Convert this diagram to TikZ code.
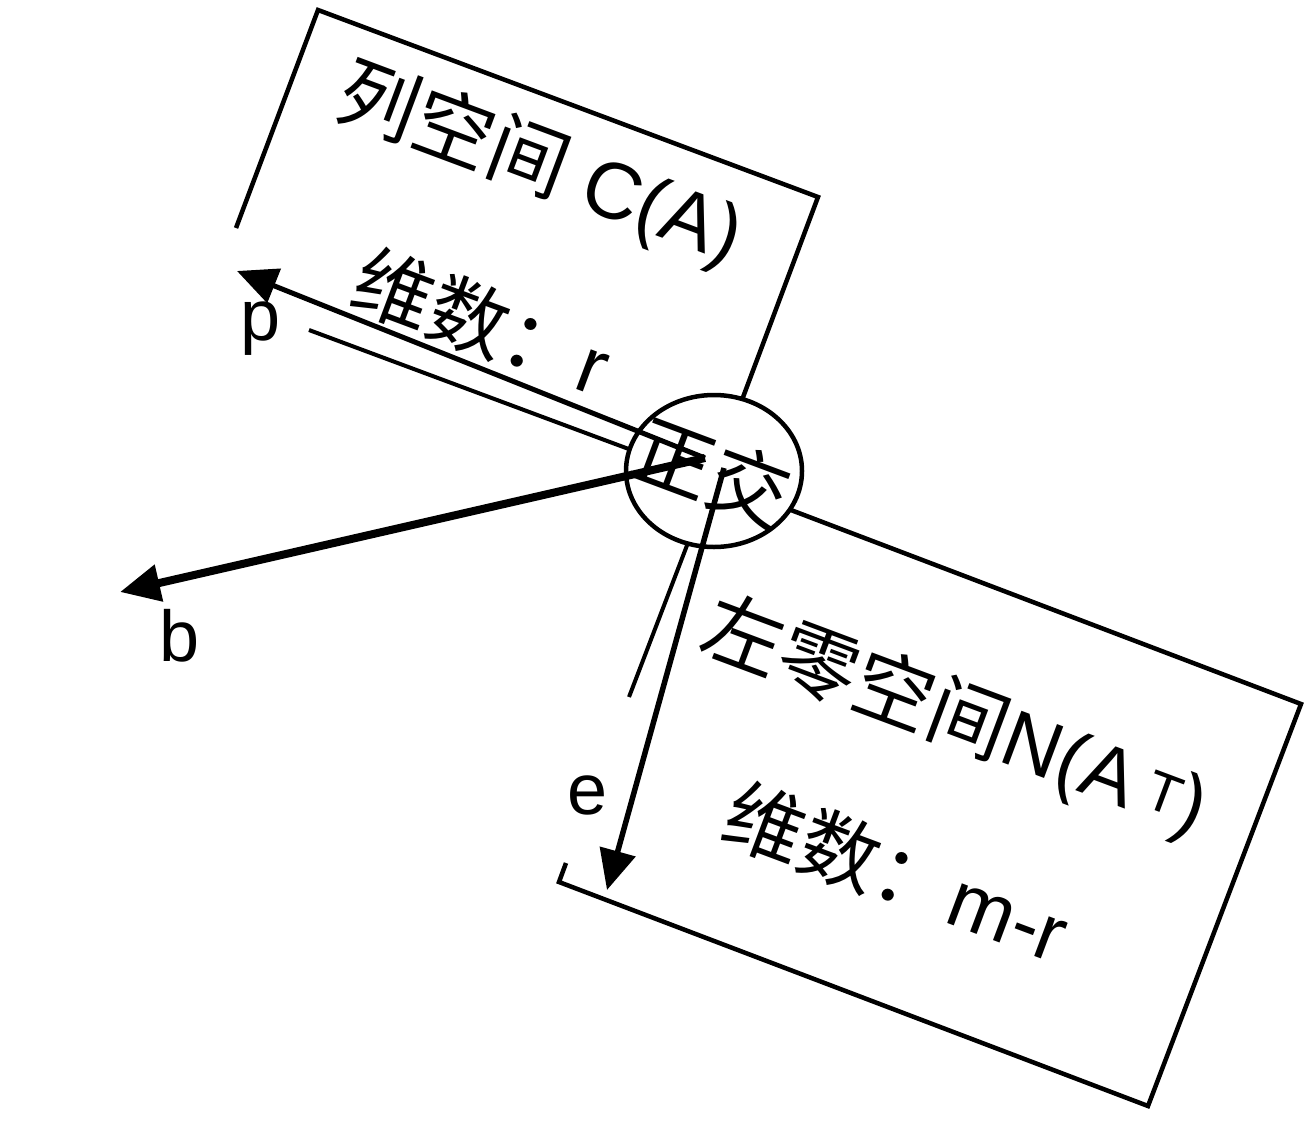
\documentclass[tikz,border=0pt]{standalone}
\usepackage{fontspec}
\setmainfont{Liberation Sans}
\newfontfamily\cjk{Noto Sans CJK SC}
\usetikzlibrary{arrows.meta,shapes.geometric}
\tikzset{every picture/.style={line width=4.5pt}}

\begin{document}
\begin{tikzpicture}[x=1pt,y=1pt,yscale=-1,xscale=1,
    txt/.style={inner sep=0pt,font=\fontsize{80}{96}\selectfont,rotate=-20.5},
    vlabel/.style={inner sep=0pt,font=\fontsize{72}{86}\selectfont},
    vec/.style={-{Triangle[length=40pt,width=36pt]}}]
    \useasboundingbox (0,0) rectangle (1314,1127);

    % column space box
    \draw   (236,228) -- (318,10) -- (818,197) -- (712,480) ;
    \draw [line width=4pt]  (309,330) -- (712,480) ;
    % left null space box
    \draw   (566,863) -- (559,882) -- (1148,1106) -- (1301,704) -- (712,480) ;
    \draw [line width=4pt]  (712,480) -- (629,697) ;

    \node [ellipse,draw,fill=white,minimum width=176pt,minimum height=152pt,inner sep=0pt] (orth) at (714,471) {};

    \coordinate (src) at (705,458);
    \coordinate (esrc) at (724,468);
    \coordinate (ptip) at (237,271);
    \coordinate (btip) at (120,592);
    \coordinate (etip) at (607,890);

    \draw [vec,line width=5pt]  (src) -- (ptip) ;
    \draw [vec,line width=8pt]  (src) -- (btip) ;
    \draw [vec,line width=5.5pt]  (esrc) -- (etip) ;

    \node [vlabel] (p) at (261,329) {p};
    \node [vlabel] (b) at (180,636) {b};
    \node [vlabel] (e) at (588,795) {e};

    \node [txt] (colsp) at (540,165) {{\cjk 列空间} C(A)};
    \node [txt] (coldim) at (482,322) {{\cjk 维数：}r};
    \node [txt] (orthtxt) at (712,472) {\cjk 正交};
    \node [txt] (nullsp) at (955,718) {{\cjk 左零空间}N(A\,\textsuperscript{T})};
    \node [txt] (nulldim) at (897,872) {{\cjk 维数：}m-r};
\end{tikzpicture}
\end{document}
